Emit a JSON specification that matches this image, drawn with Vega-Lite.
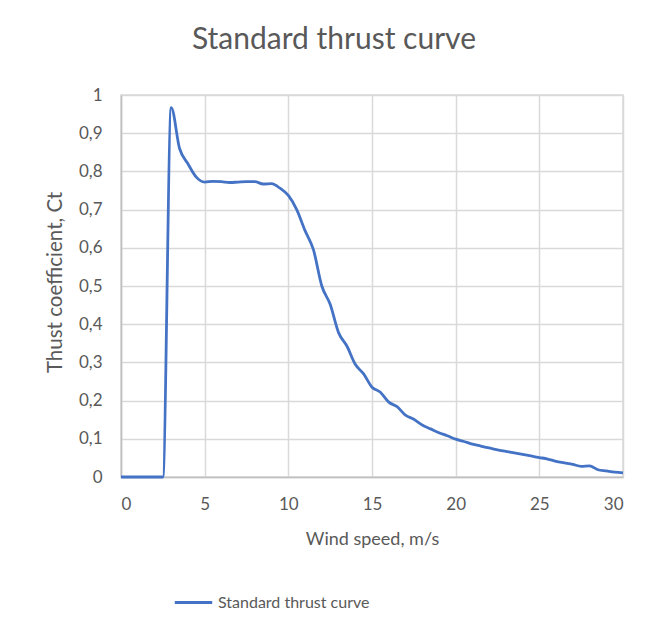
{
  "$schema": "https://vega.github.io/schema/vega-lite/v6.json",
  "autosize": "none",
  "width": 502,
  "height": 382,
  "padding": {"left": 121, "top": 95, "right": 30, "bottom": 155},
  "background": "white",
  "title": {
    "text": "Standard thrust curve",
    "font": "Lato",
    "fontSize": 30,
    "fontWeight": "normal",
    "color": "#595959",
    "anchor": "middle",
    "dx": -38,
    "offset": 31
  },
  "data": {
    "values": [
      {"speed": 0, "ct": 0},
      {"speed": 1, "ct": 0},
      {"speed": 2, "ct": 0},
      {"speed": 2.5, "ct": 0},
      {"speed": 3, "ct": 0.967},
      {"speed": 3.5, "ct": 0.86},
      {"speed": 4, "ct": 0.82},
      {"speed": 4.5, "ct": 0.785},
      {"speed": 5, "ct": 0.772},
      {"speed": 5.5, "ct": 0.774},
      {"speed": 6, "ct": 0.773},
      {"speed": 6.5, "ct": 0.771},
      {"speed": 7, "ct": 0.772},
      {"speed": 7.5, "ct": 0.773},
      {"speed": 8, "ct": 0.773},
      {"speed": 8.5, "ct": 0.767},
      {"speed": 9, "ct": 0.768},
      {"speed": 9.5, "ct": 0.756},
      {"speed": 10, "ct": 0.737},
      {"speed": 10.5, "ct": 0.7},
      {"speed": 11, "ct": 0.645},
      {"speed": 11.5, "ct": 0.595},
      {"speed": 12, "ct": 0.5},
      {"speed": 12.5, "ct": 0.452},
      {"speed": 13, "ct": 0.378},
      {"speed": 13.5, "ct": 0.343},
      {"speed": 14, "ct": 0.295},
      {"speed": 14.5, "ct": 0.27},
      {"speed": 15, "ct": 0.235},
      {"speed": 15.5, "ct": 0.222},
      {"speed": 16, "ct": 0.196},
      {"speed": 16.5, "ct": 0.184},
      {"speed": 17, "ct": 0.162},
      {"speed": 17.5, "ct": 0.151},
      {"speed": 18, "ct": 0.136},
      {"speed": 18.5, "ct": 0.126},
      {"speed": 19, "ct": 0.116},
      {"speed": 19.5, "ct": 0.108},
      {"speed": 20, "ct": 0.099},
      {"speed": 20.5, "ct": 0.093},
      {"speed": 21, "ct": 0.086},
      {"speed": 21.5, "ct": 0.081},
      {"speed": 22, "ct": 0.076},
      {"speed": 22.5, "ct": 0.071},
      {"speed": 23, "ct": 0.067},
      {"speed": 23.5, "ct": 0.063},
      {"speed": 24, "ct": 0.059},
      {"speed": 24.5, "ct": 0.055},
      {"speed": 25, "ct": 0.051},
      {"speed": 25.5, "ct": 0.047},
      {"speed": 26, "ct": 0.041},
      {"speed": 26.5, "ct": 0.037},
      {"speed": 27, "ct": 0.033},
      {"speed": 27.5, "ct": 0.028},
      {"speed": 28, "ct": 0.029},
      {"speed": 28.5, "ct": 0.019},
      {"speed": 29, "ct": 0.016},
      {"speed": 29.5, "ct": 0.013},
      {"speed": 30, "ct": 0.011}
    ]
  },
  "mark": {"type": "line", "interpolate": "monotone", "strokeWidth": 2.8},
  "encoding": {
    "x": {
      "field": "speed",
      "type": "quantitative",
      "scale": {"domain": [0, 30], "nice": false},
      "axis": {
        "values": [0, 5, 10, 15, 20, 25, 30],
        "title": "Wind speed, m/s",
        "titlePadding": 18
      }
    },
    "y": {
      "field": "ct",
      "type": "quantitative",
      "scale": {"domain": [0, 1], "nice": false},
      "axis": {
        "values": [0, 0.1, 0.2, 0.3, 0.4, 0.5, 0.6, 0.7, 0.8, 0.9, 1],
        "labelExpr": "replace(format(datum.value, '~g'), '.', ',')",
        "title": "Thust coefficient, Ct",
        "titleFontSize": 20.5,
        "titlePadding": 13,
        "titleY": 187
      }
    },
    "color": {
      "datum": "Standard thrust curve",
      "type": "nominal",
      "scale": {"range": ["#4472c4"]},
      "legend": {
        "title": null,
        "orient": "none",
        "legendX": 52,
        "legendY": 487,
        "symbolType": "stroke",
        "symbolSize": 1400,
        "symbolStrokeWidth": 3,
        "labelFont": "Lato",
        "labelFontSize": 16,
        "labelColor": "#595959",
        "labelOffset": 4
      }
    }
  },
  "config": {
    "view": {"stroke": "#d9d9d9", "strokeWidth": 1.5},
    "axis": {
      "grid": true,
      "gridColor": "#d9d9d9",
      "gridWidth": 1.5,
      "domainColor": "#bfbfbf",
      "domainWidth": 1.5,
      "ticks": false,
      "labelPadding": 19,
      "labelFont": "Lato",
      "labelFontSize": 17,
      "labelColor": "#595959",
      "titleFont": "Lato",
      "titleFontSize": 18,
      "titleFontWeight": "normal",
      "titleColor": "#595959"
    }
  }
}
